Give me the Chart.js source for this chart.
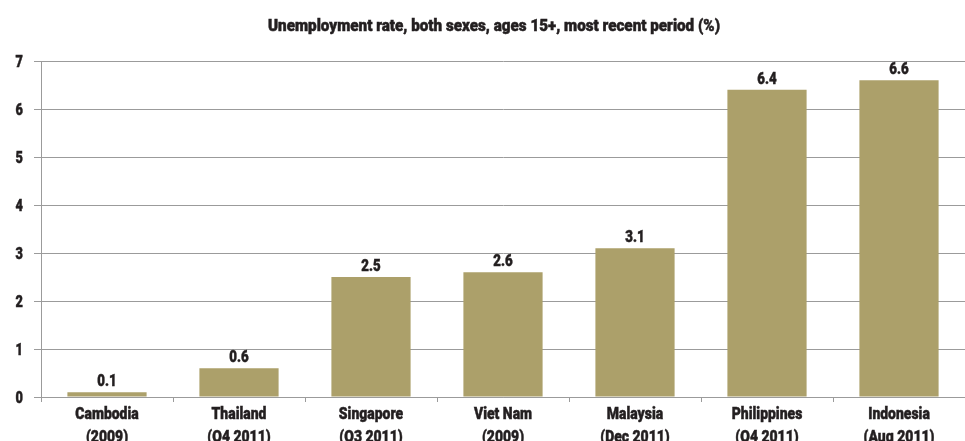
<!DOCTYPE html>
<html>
<head>
<meta charset="utf-8">
<script src="https://cdn.jsdelivr.net/npm/chart.js@4/dist/chart.umd.min.js"></script>
<style>
  html, body { margin: 0; padding: 0; background: #fff; }
  #wrap { width: 965px; height: 441px; position: relative; }
</style>
</head>
<body>
<div id="wrap"><canvas id="chart"></canvas></div>
<script>
// Valeurs
const countries = ['Cambodia', 'Thailand', 'Singapore', 'Viet Nam', 'Malaysia', 'Philippines', 'Indonesia'];
const periods = ['(2009)', '(Q4 2011)', '(Q3 2011)', '(2009)', '(Dec 2011)', '(Q4 2011)', '(Aug 2011)'];
const rates = [0.1, 0.6, 2.5, 2.6, 3.1, 6.4, 6.6];
const yTicks = [0, 1, 2, 3, 4, 5, 6, 7];
const chartTitle = 'Unemployment rate, both sexes, ages 15+, most recent period (%)';

const FONT = 'Roboto, "DejaVu Sans Condensed", sans-serif';
const TEXT = '#231f20';
const GRID = '#9b9b9b';
const BAR = '#aca06a';
const SQUEEZE = 0.82; // police condensée simulée

// Texte compressé horizontalement (la police d'origine est très étroite et grasse)
function condensedText(ctx, text, x, y, align, size, sx) {
    ctx.save();
    ctx.font = '900 ' + size + 'px ' + FONT;
    ctx.fillStyle = TEXT;
    ctx.strokeStyle = TEXT;
    ctx.lineWidth = 0.5;
    ctx.textBaseline = 'alphabetic';
    ctx.textAlign = 'left';
    const w = ctx.measureText(text).width * sx;
    let left = x;
    if (align === 'center') left = x - w / 2;
    else if (align === 'right') left = x - w;
    ctx.translate(left, y);
    ctx.scale(sx, 1);
    ctx.fillText(text, 0, 0);
    ctx.strokeText(text, 0, 0);
    ctx.restore();
}

const textPlugin = {
    id: 'textPlugin',
    afterDraw(chart) {
        const ctx = chart.ctx;
        const area = chart.chartArea;
        const xs = chart.scales.x;
        const ys = chart.scales.y;

        // titre
        ctx.save();
        ctx.font = '900 16px ' + FONT;
        const tw = ctx.measureText(chartTitle).width;
        ctx.restore();
        condensedText(ctx, chartTitle, 494, 31, 'center', 16, 452 / tw);

        // graduations de l'axe y
        yTicks.forEach(v => {
            condensedText(ctx, String(v), 23, ys.getPixelForValue(v) + 6, 'right', 17, 0.75);
        });

        // catégories sur deux lignes
        countries.forEach((c, i) => {
            const x = xs.getPixelForValue(i);
            condensedText(ctx, c, x, area.bottom + 22, 'center', 17, SQUEEZE);
            condensedText(ctx, periods[i], x, area.bottom + 45, 'center', 17, SQUEEZE);
        });

        // valeurs au-dessus des barres
        chart.getDatasetMeta(0).data.forEach((bar, i) => {
            condensedText(ctx, rates[i].toFixed(1), bar.x, bar.y - 6, 'center', 17, 0.78);
        });
    }
};

new Chart(document.getElementById('chart'), {
    type: 'bar',
    data: {
        labels: countries,
        datasets: [{
            data: rates,
            backgroundColor: BAR,
            borderWidth: 0,
            categoryPercentage: 1,
            barPercentage: 0.6
        }]
    },
    options: {
        responsive: true,
        maintainAspectRatio: false,
        animation: false,
        layout: { padding: { left: 0, right: 0, top: 61, bottom: 0 } },
        plugins: {
            legend: { display: false },
            tooltip: { enabled: false },
            title: { display: false }
        },
        scales: {
            y: {
                min: 0,
                max: 7,
                afterFit: (scale) => { scale.width = 41; },
                afterBuildTicks: (scale) => { scale.ticks = yTicks.map(v => ({ value: v })); },
                border: { color: GRID, width: 1 },
                grid: { color: GRID, lineWidth: 1, tickLength: 7 },
                ticks: { display: false }
            },
            x: {
                afterFit: (scale) => { scale.height = 44; },
                border: { color: GRID, width: 1 },
                grid: { color: GRID, drawOnChartArea: false, tickLength: 5, offset: true },
                ticks: { display: false }
            }
        }
    },
    plugins: [textPlugin]
});
</script>
</body>
</html>
